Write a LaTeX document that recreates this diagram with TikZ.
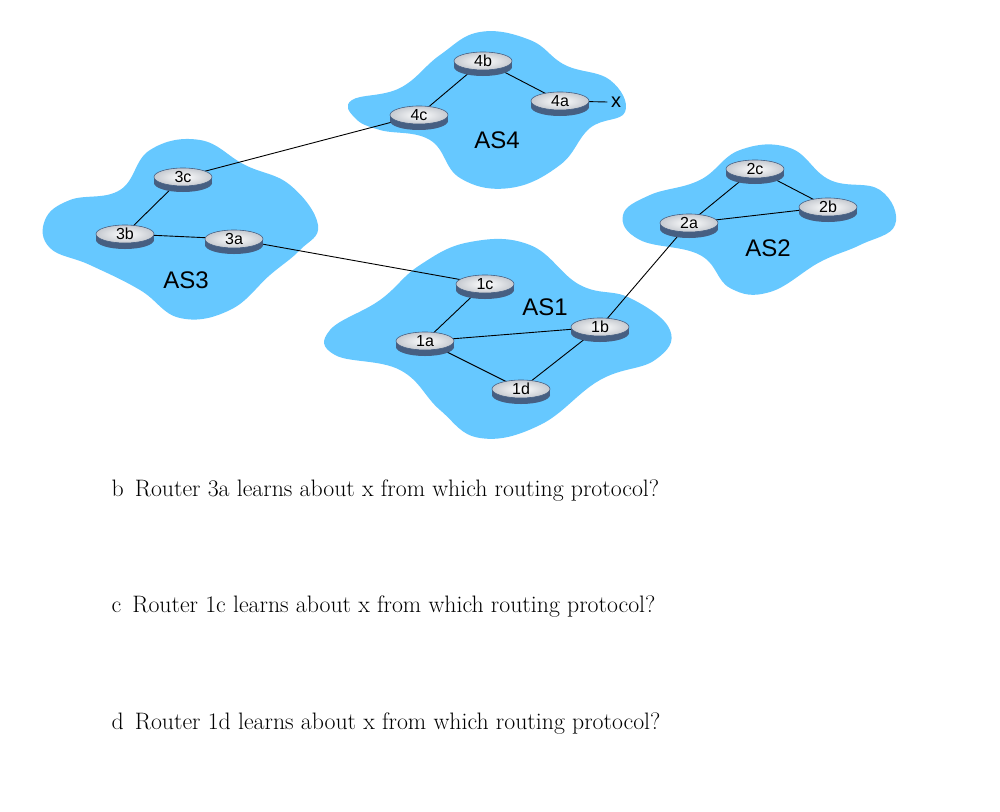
\documentclass[tikz,border=0pt]{standalone}
\usepackage{fontspec}
\setmainfont{Latin Modern Roman}
\newfontfamily\sans{Liberation Sans}
\usetikzlibrary{shapes.geometric}
\pgfdeclarelayer{top}
\pgfsetlayers{main,top}
\definecolor{cloud}{RGB}{102,200,255}
\definecolor{rside}{RGB}{70,95,130}
\definecolor{rtop}{RGB}{215,220,228}
\tikzset{
  cl/.style={fill=cloud,draw=none},
  link/.style={draw=black,line width=0.9pt},
  router/.style={ellipse,draw=rside,line width=0.6pt,inner color=white,outer color=rtop!80!gray,
     minimum width=58pt,minimum height=18pt,inner sep=0pt,font=\sans\fontsize{16}{16}\selectfont},
  aslab/.style={font=\sans\fontsize{24}{24}\selectfont},
  q/.style={anchor=west,font=\fontsize{23.8}{24}\selectfont}
}
\newcommand{\rt}[3]{%
  \fill[rside] (#2-29,-#3) rectangle (#2+29,-#3-6);
  \fill[rside] (#2,-#3-6) ellipse [x radius=29,y radius=9];
  \node[router] (#1) at (#2,-#3) {#1};}
\begin{document}
\begin{tikzpicture}[x=1pt,y=1pt]
\useasboundingbox (0,0) rectangle (1000,-811);
\fill[cl] plot[smooth cycle,tension=0.7] coordinates{(352,-100)(400,-88)(440,-55)(480,-32)(530,-40)(565,-65)(610,-80)(625,-112)(590,-128)(560,-165)(510,-188)(460,-178)(430,-140)(380,-130)(355,-118)};
\fill[cl] plot[smooth cycle,tension=0.7] coordinates{(45,-220)(70,-200)(120,-190)(150,-150)(200,-140)(245,-165)(290,-185)(318,-225)(300,-250)(270,-275)(230,-310)(180,-318)(140,-290)(90,-265)(50,-248)};
\fill[cl] plot[smooth cycle,tension=0.7] coordinates{(330,-330)(380,-300)(420,-265)(470,-242)(530,-245)(580,-285)(630,-298)(670,-330)(655,-360)(600,-380)(540,-425)(480,-438)(440,-410)(400,-370)(335,-355)};
\fill[cl] plot[smooth cycle,tension=0.7] coordinates{(623,-215)(650,-195)(700,-180)(740,-150)(790,-148)(830,-180)(880,-190)(895,-225)(860,-245)(820,-262)(770,-292)(730,-288)(700,-255)(640,-240)};
\begin{pgfonlayer}{top}
\rt{4b}{483}{61}\rt{4c}{419}{115}\rt{4a}{560}{101}
\rt{3c}{183}{177}\rt{3b}{125}{234}\rt{3a}{234}{239}
\rt{1c}{485}{284}\rt{1a}{425}{341}\rt{1b}{600}{327}\rt{1d}{521}{389}
\rt{2c}{755}{169}\rt{2a}{689}{223}\rt{2b}{828}{207}
\end{pgfonlayer}
\node[font=\sans\fontsize{20}{20}\selectfont] (x) at (616,-102) {x};
\draw[link] (4c.center)--(4b.center)--(4a.center) (4a)--(x.west);
\draw[link] (3c.center)--(4c.center) (3c.center)--(3b.center)--(3a.center)--(1c.center);
\draw[link] (1c.center)--(1a.center)--(1d.center)--(1b.center)--(1a.center) (1b.center)--(2a.center);
\draw[link] (2a.center)--(2c.center)--(2b.center)--(2a.center);
\node[aslab] (as4) at (497,-140) {AS4};
\node[aslab] (as3) at (186,-280) {AS3};
\node[aslab] (as1) at (545,-307) {AS1};
\node[aslab] (as2) at (768,-248) {AS2};
\node[q] (qb) at (108,-491) {b\, Router 3a learns about x from which routing protocol?};
\node[q] (qc) at (108,-607) {c\, Router 1c learns about x from which routing protocol?};
\node[q] (qd) at (108,-724) {d\, Router 1d learns about x from which routing protocol?};
\end{tikzpicture}
\end{document}
